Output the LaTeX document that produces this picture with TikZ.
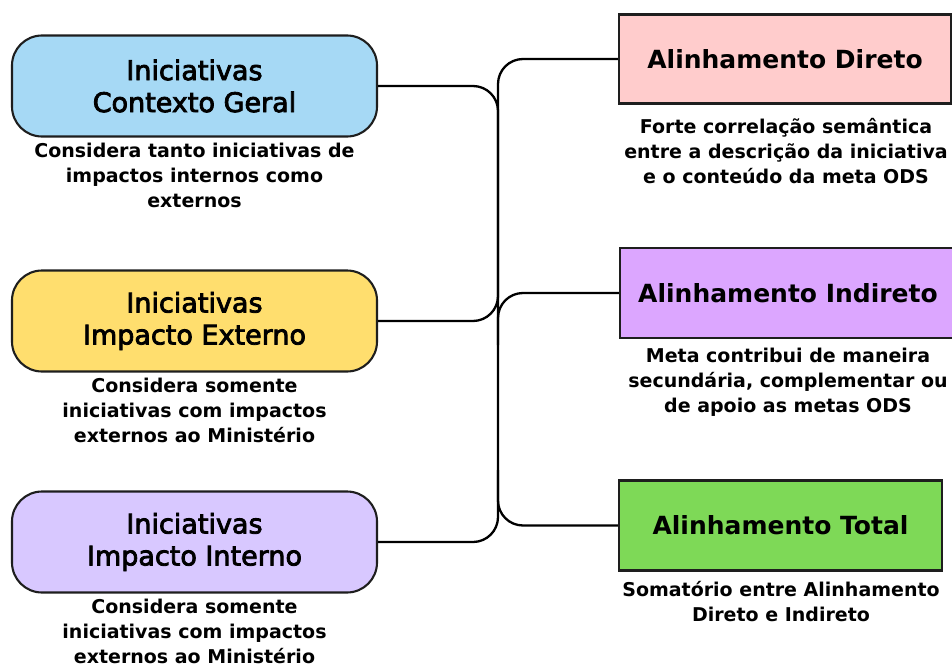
\documentclass[tikz,border=0pt]{standalone}
\usepackage{fontspec}
\setmainfont{DejaVu Sans}
\newcommand{\medtxt}[1]{\special{pdf:literal direct 2 Tr 0.8 w}#1\special{pdf:literal direct 0 Tr}}
\definecolor{cblue}{HTML}{A6D9F5}
\definecolor{cyellow}{HTML}{FFDE6E}
\definecolor{clav}{HTML}{D8C8FF}
\definecolor{cpink}{HTML}{FFCCCC}
\definecolor{cviolet}{HTML}{DCA6FF}
\definecolor{cgreen}{HTML}{7ED957}
\definecolor{cline}{HTML}{1E1E1E}
\begin{document}
\begin{tikzpicture}[x=1pt,y=-1pt,
  leftbox/.style={draw=cline, line width=2.1pt, rounded corners=30pt, minimum width=365pt, minimum height=101pt, align=center, inner sep=0pt, font=\fontsize{27}{32}\selectfont},
  rightbox/.style={draw=cline, line width=2.1pt, minimum height=89pt, inner sep=0pt, font=\bfseries\fontsize{25}{30}\selectfont},
  desc/.style={align=center, inner sep=0pt, font=\bfseries\fontsize{19}{25}\selectfont},
  conn/.style={draw=black, line width=2.3pt, rounded corners=25pt}]
\useasboundingbox[fill=white] (0,0) rectangle (952,666);
% left boxes
\node[leftbox, fill=cblue] (b1) at (194.5,86) {\medtxt{Iniciativas}\\\medtxt{Contexto Geral}};
\node[leftbox, fill=cyellow] (b2) at (194.5,321) {\medtxt{Iniciativas}\\\medtxt{Impacto Externo}};
\node[leftbox, fill=clav] (b3) at (194.5,542) {\medtxt{Iniciativas}\\\medtxt{Impacto Interno}};
\node[desc] (d1) at (194.5,175) {Considera tanto iniciativas de\\impactos internos como\\externos};
\node[desc] (d2) at (194.5,410) {Considera somente\\iniciativas com impactos\\externos ao Ministério};
\node[desc] (d3) at (194.5,631) {Considera somente\\iniciativas com impactos\\externos ao Ministério};
% right boxes
\node[rightbox, fill=cpink, minimum width=332pt] (rA) at (785,59) {Alinhamento Direto};
\node[rightbox, fill=cviolet, minimum width=336pt, minimum height=90pt] (rB) at (788,293) {Alinhamento Indireto};
\node[rightbox, fill=cgreen, minimum width=323pt, minimum height=90pt] (rC) at (780.5,525.5) {Alinhamento Total};
\node[desc] (dA) at (786,151) {Forte correlação semântica\\entre a descrição da iniciativa\\e o conteúdo da meta ODS};
\node[desc] (dB) at (788,382) {Meta contribui de maneira\\secundária, complementar ou\\de apoio as metas ODS};
\node[desc] (dC) at (781,601.5) {Somatório entre Alinhamento\\Direto e Indireto};
% connectors
\coordinate (j) at (498,0);
\coordinate (jB) at (498,345);
\coordinate (jC) at (498,470);
\draw[conn] (b1.east) -| (j |- b2.east) -- (b2.east);
\draw[conn] (b3.east) -| (j |- rA.west) -- (rA.west);
\draw[conn] (jB) |- (rB.west);
\draw[conn] (jC) |- (rC.west);
\end{tikzpicture}
\end{document}
